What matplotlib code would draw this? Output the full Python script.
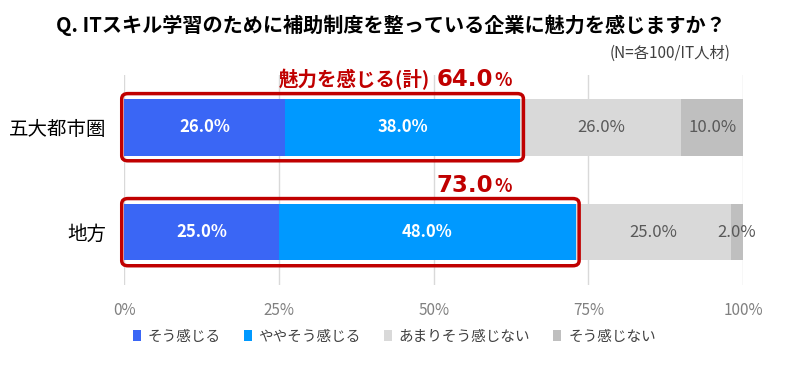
import matplotlib
matplotlib.use("Agg")
import matplotlib.pyplot as plt
from matplotlib.patches import FancyBboxPatch, Patch

plt.rcParams['font.family'] = ['Noto Sans CJK JP', 'DejaVu Sans']

# データ
regions = ['五大都市圏', '地方']
series = ['そう感じる', 'ややそう感じる', 'あまりそう感じない', 'そう感じない']
values = [
    [26.0, 25.0],   # そう感じる
    [38.0, 48.0],   # ややそう感じる
    [26.0, 25.0],   # あまりそう感じない
    [10.0, 2.0],    # そう感じない
]
totals = [64.0, 73.0]
colors = ['#3a66f5', '#0099ff', '#d9d9d9', '#bfbfbf']
label_colors = ['white', 'white', '#595959', '#595959']
label_weights = ['bold', 'bold', 'normal', 'normal']

fig = plt.figure(figsize=(7.86, 3.67), dpi=100)
ax = fig.add_axes([0.158, 0.223, 0.7875, 0.572])

left = [0.0, 0.0]
for k, name in enumerate(series):
    ax.barh(range(len(regions)), values[k], left=left, height=0.54,
            color=colors[k], label=name, zorder=2)
    for i, v in enumerate(values[k]):
        ax.text(left[i] + v / 2, i, f'{v:.1f}%', ha='center', va='center',
                color=label_colors[k], fontsize=12, fontweight=label_weights[k], zorder=4)
    left = [l + v for l, v in zip(left, values[k])]

# 赤枠
for i, t in enumerate(totals):
    box = FancyBboxPatch((-0.4, i - 0.32), t + 0.9, 0.64,
                         boxstyle='round,pad=0,rounding_size=1.0',
                         fill=False, edgecolor='#c00000', linewidth=2.5,
                         mutation_aspect=0.05, zorder=5, clip_on=False)
    ax.add_patch(box)

# 合計ラベル
red = '#c00000'
ax.text(49.4, -0.39, '魅力を感じる(計)', ha='right', va='baseline',
        color=red, fontsize=14, fontweight='bold')
for i, t in enumerate(totals):
    yb = -0.39 if i == 0 else 0.62
    ax.text(50.4, yb, f'{t:.1f}', ha='left', va='baseline',
            color=red, fontsize=16.5, fontweight='bold', family=['DejaVu Sans'])
    ax.text(59.8, yb, '%', ha='left', va='baseline',
            color=red, fontsize=13, fontweight='bold')

ax.set_xlim(0, 100)
ax.set_ylim(1.505, -0.495)
ax.set_yticks(range(len(regions)))
ax.set_yticklabels(regions, fontsize=14)
ax.set_xticks([0, 25, 50, 75, 100])
ax.set_xticklabels(['0%', '25%', '50%', '75%', '100%'], fontsize=11, color='#808080')
ax.tick_params(axis='y', length=0, pad=13)
ax.tick_params(axis='x', length=0, pad=12)
ax.grid(axis='x', color='#d9d9d9', linewidth=1, zorder=0)
for s in ax.spines.values():
    s.set_visible(False)

fig.text(0.497, 0.93, 'Q. ITスキル学習のために補助制度を整っている企業に魅力を感じますか？',
         ha='center', va='center', fontsize=14.5, fontweight='bold')
fig.text(0.93, 0.855, '(N=各100/IT人材)', ha='right', va='center',
         fontsize=11, color='#404040')

handles = [Patch(facecolor=c, edgecolor='none') for c in colors]
fig.legend(handles, series, loc='center left', bbox_to_anchor=(0.152, 0.083),
           ncol=4, frameon=False, fontsize=10.5, handlelength=0.55, handleheight=0.8,
           handletextpad=0.45, columnspacing=1.6, labelcolor='#404040')

fig.savefig('out.png', dpi=100, facecolor='white')
